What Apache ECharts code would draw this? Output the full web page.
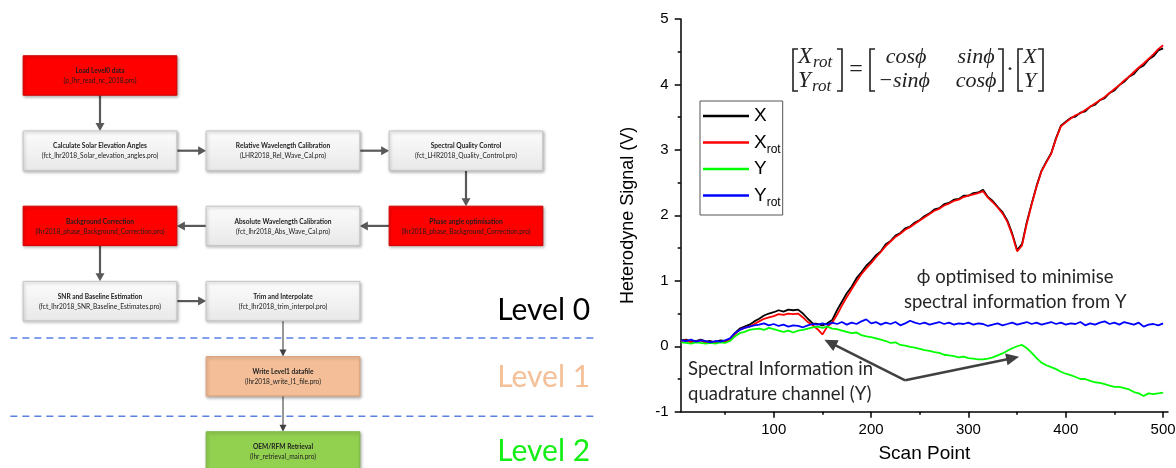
<!DOCTYPE html>
<html><head><meta charset="utf-8">
<script src="https://cdn.jsdelivr.net/npm/echarts@6.0.0/dist/echarts.min.js"></script>
<style>html,body{margin:0;padding:0;background:#fff}#c{width:1176px;height:468px}</style>
</head><body><div id="c"></div>
<script>
// ---------------- chart data ----------------
const scanPoint = [5,10,15,20,25,30,35,40,45,50,55,60,65,70,75,80,85,90,95,100,
  105,110,115,120,125,130,135,140,145,150,155,160,165,170,175,180,185,190,195,200,
  205,210,215,220,225,230,235,240,245,250,255,260,265,270,275,280,285,290,295,300,
  305,310,315,320,325,330,335,340,345,350,355,360,365,370,375,380,385,390,395,400,
  405,410,415,420,425,430,435,440,445,450,455,460,465,470,475,480,485,490,495,500];
const sigX = [0.09,0.10,0.07,0.08,0.10,0.07,0.08,0.06,0.09,0.08,0.11,0.20,0.27,0.30,0.33,0.38,0.42,0.47,0.50,0.52,
  0.55,0.53,0.56,0.55,0.56,0.50,0.42,0.35,0.34,0.32,0.35,0.40,0.55,0.68,0.81,0.91,1.04,1.13,1.23,1.30,
  1.39,1.45,1.56,1.61,1.69,1.73,1.80,1.83,1.89,1.93,1.99,2.03,2.09,2.11,2.17,2.19,2.24,2.25,2.30,2.30,
  2.34,2.35,2.39,2.28,2.22,2.13,2.05,1.92,1.72,1.47,1.56,1.90,2.18,2.45,2.68,2.82,2.95,3.18,3.37,3.43,
  3.49,3.51,3.57,3.59,3.66,3.69,3.76,3.79,3.87,3.91,3.99,4.04,4.12,4.16,4.25,4.29,4.38,4.43,4.52,4.55];
const sigXrot = [0.08,0.09,0.06,0.07,0.09,0.05,0.06,0.05,0.07,0.07,0.10,0.18,0.25,0.28,0.30,0.34,0.38,0.42,0.44,0.46,
  0.49,0.48,0.50,0.49,0.50,0.44,0.37,0.32,0.26,0.18,0.30,0.36,0.48,0.62,0.75,0.87,0.99,1.10,1.19,1.27,
  1.36,1.44,1.53,1.60,1.67,1.72,1.78,1.82,1.87,1.92,1.97,2.02,2.07,2.10,2.15,2.18,2.22,2.24,2.28,2.30,
  2.32,2.34,2.37,2.27,2.20,2.12,2.03,1.90,1.70,1.45,1.54,1.88,2.17,2.44,2.67,2.81,2.94,3.17,3.36,3.42,
  3.48,3.53,3.56,3.61,3.66,3.71,3.76,3.81,3.87,3.93,3.99,4.06,4.12,4.19,4.26,4.32,4.39,4.46,4.54,4.60];
const sigY = [0.06,0.05,0.04,0.06,0.05,0.04,0.05,0.04,0.06,0.05,0.08,0.15,0.20,0.22,0.25,0.26,0.27,0.25,0.28,0.26,
  0.24,0.22,0.24,0.21,0.24,0.25,0.27,0.29,0.30,0.28,0.30,0.27,0.26,0.24,0.22,0.20,0.21,0.17,0.15,0.14,
  0.12,0.10,0.08,0.05,0.06,0.02,0.01,-0.01,-0.02,-0.04,-0.06,-0.07,-0.09,-0.10,-0.13,-0.14,-0.15,-0.17,-0.16,-0.18,
  -0.19,-0.20,-0.20,-0.19,-0.17,-0.14,-0.11,-0.07,-0.03,0.00,0.02,-0.03,-0.10,-0.18,-0.25,-0.29,-0.32,-0.35,-0.39,-0.42,
  -0.44,-0.47,-0.50,-0.50,-0.53,-0.55,-0.56,-0.58,-0.60,-0.62,-0.62,-0.64,-0.66,-0.70,-0.72,-0.76,-0.72,-0.73,-0.72,-0.71];
const sigYrot = [0.09,0.08,0.10,0.07,0.09,0.08,0.06,0.08,0.07,0.09,0.12,0.20,0.25,0.28,0.30,0.32,0.33,0.35,0.32,0.34,
  0.31,0.33,0.30,0.32,0.31,0.29,0.32,0.34,0.33,0.35,0.33,0.36,0.34,0.37,0.33,0.36,0.34,0.38,0.41,0.35,
  0.37,0.33,0.36,0.34,0.37,0.32,0.35,0.39,0.36,0.34,0.36,0.33,0.35,0.37,0.34,0.36,0.33,0.35,0.34,0.36,
  0.33,0.35,0.34,0.31,0.33,0.35,0.32,0.34,0.36,0.33,0.35,0.37,0.34,0.36,0.33,0.35,0.37,0.34,0.36,0.33,
  0.35,0.34,0.37,0.32,0.35,0.33,0.36,0.38,0.34,0.36,0.33,0.37,0.35,0.33,0.36,0.30,0.33,0.34,0.32,0.35];
const seriesNames = ['X','Xrot','Y','Yrot'];
const legendLabels = {X:'X', Xrot:'X{sub|rot}', Y:'Y', Yrot:'Y{sub|rot}'};
const xLabelValues = [100,200,300,400,500];
const xMinorValues = [50,150,250,350,450];

// ---------------- flowchart content ----------------
const flowTitles = ['Load Level0 data','Calculate Solar Elevation Angles','Relative Wavelength Calibration',
  'Spectral Quality Control','Phase angle optimisation','Absolute Wavelength Calibration','Background Correction',
  'SNR and Baseline Estimation','Trim and Interpolate','Write Level1 datafile','OEM/RFM Retrieval'];
const flowFiles = ['(p_lhr_read_nc_2018.pro)','(fct_lhr2018_Solar_elevation_angles.pro)','(LHR2018_Rel_Wave_Cal.pro)',
  '(fct_LHR2018_Quality_Control.pro)','(lhr2018_phase_Background_Correction.pro)','(fct_lhr2018_Abs_Wave_Cal.pro)',
  '(lhr2018_phase_Background_Correction.pro)','(fct_lhr2018_SNR_Baseline_Estimates.pro)','(fct_lhr2018_trim_interpol.pro)',
  '(lhr2018_write_l1_file.pro)','(lhr_retrieval_main.pro)'];
const flowCols = [0,0,1,2,2,1,0,0,1,1,1];
const flowRows = [0,1,1,1,2,2,2,3,3,4,5];
const flowKinds = ['red','gray','gray','gray','red','gray','red','gray','gray','peach','green'];
const flowLinks = [[0,1],[1,2],[2,3],[3,4],[4,5],[5,6],[6,7],[7,8],[8,9],[9,10]];
const levelNames = ['Level 0','Level 1','Level 2'];
const levelColors = ['#000000','#f5bf97','#14ee14'];
const levelRows = [3.12,4.02,5.0];
const levelSeparators = [3.49,4.53];

// annotations on the signal plot (data coordinates)
const arrowBase = [235,-0.52];
const arrowTips = [[152,0.10],[352,-0.16]];
const noteTexts = ['\u03D5 optimised to minimise','spectral information from Y','Spectral Information in','quadrature channel (Y)'];
const notePos = [[348,1.06],[348,0.675],[12,-0.35],[12,-0.73]];
const noteAlign = ['center','center','left','left'];

// ---------------- styles ----------------
const BOX_W = 0.84, BOX_H = 0.525;
const boxStyles = {
  red:{fill:'#ff0000',stroke:'#d00000',text:'#1e1e1e'},
  gray:{fill:{type:'linear',x:0,y:0,x2:0,y2:1,colorStops:[{offset:0,color:'#fcfcfc'},{offset:1,color:'#e8e8e8'}]},stroke:'#c4c4c4',text:'#222'},
  peach:{fill:'#f4bf98',stroke:'#dca27b',text:'#222'},
  green:{fill:'#92d050',stroke:'#7db843',text:'#222'}
};
const SANS = '"Liberation Sans", Arial, sans-serif';
const CAL = 'Lato, "Open Sans", sans-serif';
const SERIF = '"Liberation Serif", "DejaVu Serif", serif';

function arrowShape(x1,y1,x2,y2,len,half,color,width){
  const d = Math.hypot(x2-x1,y2-y1), ux=(x2-x1)/d, uy=(y2-y1)/d;
  const bx = x2-ux*len, by = y2-uy*len;
  return [
    {type:'line',shape:{x1:x1,y1:y1,x2:bx+ux*1,y2:by+uy*1},style:{stroke:color,lineWidth:width}},
    {type:'polygon',shape:{points:[[x2,y2],[bx-uy*half,by+ux*half],[bx+uy*half,by-ux*half]]},style:{fill:color}}
  ];
}

const chart = echarts.init(document.getElementById('c'));

const mainSeries = [sigX,sigXrot,sigY,sigYrot].map((arr,k)=>({
  name: seriesNames[k], type:'line', xAxisIndex:1, yAxisIndex:1,
  data: scanPoint.map((x,i)=>[x,arr[i]]),
  showSymbol:false, symbol:'none', color:['#000000','#ff0000','#00ff00','#0000ff'][k],
  lineStyle:{width:1.8}, animation:false, silent:true, z:3+k
}));

// equation (text) elements
const eqColor = '#222';
function eqText(t,x,y,size,italic,align){
  return {type:'text',x:x,y:y,silent:true,style:{text:t,fill:eqColor,
    font:(italic?'italic ':'')+size+'px '+SERIF,textAlign:align||'center',textVerticalAlign:'middle'}};
}
function bracket(x,open){
  const s = open?5:-5;
  return {type:'polyline',silent:true,shape:{points:[[x+s,49],[x,49],[x,91],[x+s,91]]},style:{stroke:eqColor,lineWidth:1.6,fill:null}};
}
const eqElements = [
  bracket(793,true), bracket(842,false), bracket(870,true), bracket(1003,false), bracket(1018,true), bracket(1043,false),
  eqText('X',798,57,23,true,'left'), eqText('rot',813,63,17,true,'left'),
  eqText('Y',798,81,23,true,'left'), eqText('rot',812,87,17,true,'left'),
  eqText('=',856,70,24,false),
  eqText('cos\u03D5',906,57,22,true), eqText('sin\u03D5',976,57,22,true),
  eqText('\u2212sin\u03D5',904,81,22,true), eqText('cos\u03D5',976,81,22,true),
  eqText('\u00B7',1010,70,24,false),
  eqText('X',1030,57,22,true), eqText('Y',1030,81,22,true)
];

chart.setOption({
  animation:false,
  backgroundColor:'#ffffff',
  grid:[
    {left:8.5,top:37.9,width:549,height:451.2,outerBoundsMode:'none',containLabel:false},
    {left:680.7,top:19,width:487.3,height:392.7,outerBoundsMode:'none',containLabel:false}
  ],
  xAxis:[
    {gridIndex:0,type:'value',min:-0.5,max:2.5,show:false},
    {gridIndex:1,type:'value',min:4.4,max:505,position:'bottom',
      name:'Scan Point',nameLocation:'middle',nameGap:33,
      nameTextStyle:{fontFamily:SANS,fontSize:19,color:'#000'},
      axisLine:{show:true,onZero:false,lineStyle:{color:'#000',width:1.5}},
      axisTick:{show:true,length:6,customValues:xLabelValues,lineStyle:{color:'#000',width:1.5}},
      axisLabel:{show:true,customValues:xLabelValues,margin:11,fontFamily:SANS,fontSize:15,color:'#000'},
      splitLine:{show:false}},
    {gridIndex:1,type:'value',min:4.4,max:505,position:'bottom',
      axisLine:{show:false,onZero:false},
      axisTick:{show:true,length:3,customValues:xMinorValues,lineStyle:{color:'#000',width:1.5}},
      axisLabel:{show:false},splitLine:{show:false}}
  ],
  yAxis:[
    {gridIndex:0,type:'value',min:-0.5,max:5.5,inverse:true,show:false},
    {gridIndex:1,type:'value',min:-1,max:5,interval:1,
      name:'Heterodyne Signal (V)',nameLocation:'middle',nameGap:44,
      nameTextStyle:{fontFamily:SANS,fontSize:18,color:'#000'},
      axisLine:{show:true,onZero:false,lineStyle:{color:'#000',width:1.5}},
      axisTick:{show:true,length:6,lineStyle:{color:'#000',width:1.5}},
      minorTick:{show:true,splitNumber:2,length:3,lineStyle:{color:'#000',width:1.5}},
      axisLabel:{margin:12,fontFamily:SANS,fontSize:15,color:'#000'},
      splitLine:{show:false},minorSplitLine:{show:false}}
  ],
  legend:{
    data:seriesNames, orient:'vertical', left:700, top:101,
    padding:[4,2,6,3], itemWidth:46, itemHeight:2.5, itemGap:2, itemTextGap:6,
    icon:'rect', borderColor:'#555', borderWidth:1, backgroundColor:'#fff', selectedMode:false,
    textStyle:{fontFamily:SANS,fontSize:19,color:'#000',lineHeight:22,
      rich:{sub:{fontFamily:SANS,fontSize:12,color:'#000',lineHeight:12,padding:[15,0,0,0]}}},
    formatter:function(n){return legendLabels[n];}
  },
  graphic:{elements:eqElements},
  series:[
    // level separators
    {type:'custom',xAxisIndex:0,yAxisIndex:0,silent:true,z:1,
      data:levelSeparators.map(r=>[0,r]),encode:{x:0,y:1},
      renderItem:function(p,api){
        const a = api.coord([-0.49,api.value(1)]), b = api.coord([2.716,api.value(1)]);
        return {type:'line',shape:{x1:a[0],y1:a[1],x2:b[0],y2:b[1]},style:{stroke:'#5b80e6',lineWidth:1.5,lineDash:[7,5]}};
      }},
    // level labels
    {type:'custom',xAxisIndex:0,yAxisIndex:0,silent:true,z:2,
      data:levelRows.map((r,i)=>[2.678,r,i]),encode:{x:0,y:1},
      renderItem:function(p,api){
        const c = api.coord([api.value(0),api.value(1)]), i = api.value(2);
        return {type:'text',x:c[0],y:c[1],style:{text:levelNames[i],fill:levelColors[i],font:'30px '+CAL,textAlign:'right',textVerticalAlign:'middle'}};
      }},
    // flow links
    {type:'custom',xAxisIndex:0,yAxisIndex:0,silent:true,z:2,
      data:flowLinks,encode:{x:0,y:1},
      renderItem:function(p,api){
        const a = api.value(0), b = api.value(1);
        const pa = api.coord([flowCols[a],flowRows[a]]), pb = api.coord([flowCols[b],flowRows[b]]);
        const s = api.size([BOX_W,BOX_H]); const w=Math.abs(s[0]), h=Math.abs(s[1]);
        const dx = Math.sign(pb[0]-pa[0]), dy = Math.sign(pb[1]-pa[1]);
        const x1 = pa[0]+dx*w/2, x2 = pb[0]-dx*w/2, y1 = pa[1]+dy*h/2, y2 = pb[1]-dy*h/2;
        const thin = flowRows[b] >= 4;
        return {type:'group',children: thin ? arrowShape(x1,y1,x2,y2,7,3.5,'#404040',1.1)
                                            : arrowShape(x1,y1,x2,y2,8,4.5,'#595959',2.2)};
      }},
    // flow boxes
    {type:'custom',xAxisIndex:0,yAxisIndex:0,silent:true,z:3,
      data:flowCols.map((c,i)=>[c,flowRows[i],i]),encode:{x:0,y:1},
      renderItem:function(p,api){
        const i = api.value(2);
        const c = api.coord([api.value(0),api.value(1)]);
        const s = api.size([BOX_W,BOX_H]); const w=Math.abs(s[0]), h=Math.abs(s[1]);
        const st = boxStyles[flowKinds[i]];
        return {type:'group',children:[
          {type:'rect',shape:{x:c[0]-w/2,y:c[1]-h/2,width:w,height:h},
            style:{fill:st.fill,stroke:st.stroke,lineWidth:1,shadowBlur:3,shadowOffsetX:1,shadowOffsetY:1.5,shadowColor:'rgba(0,0,0,0.28)'}},
          {type:'text',x:c[0],y:c[1]-4.5,style:{text:flowTitles[i],fill:st.text,font:'bold 6.6px '+CAL,textAlign:'center',textVerticalAlign:'middle'}},
          {type:'text',x:c[0],y:c[1]+5.5,style:{text:flowFiles[i],fill:st.text,font:'6.6px '+CAL,textAlign:'center',textVerticalAlign:'middle'}}
        ]};
      }},
    ...mainSeries,
    // annotation arrows
    {type:'custom',xAxisIndex:1,yAxisIndex:1,silent:true,z:10,clip:false,
      data:arrowTips,encode:{x:0,y:1},
      renderItem:function(p,api){
        const t = api.coord([api.value(0),api.value(1)]), b = api.coord(arrowBase);
        return {type:'group',children:arrowShape(b[0],b[1],t[0],t[1],13,6,'#404040',2.5)};
      }},
    // annotation texts
    {type:'custom',xAxisIndex:1,yAxisIndex:1,silent:true,z:10,clip:false,
      data:notePos.map((q,i)=>[q[0],q[1],i]),encode:{x:0,y:1},
      renderItem:function(p,api){
        const c = api.coord([api.value(0),api.value(1)]), i = api.value(2);
        return {type:'text',x:c[0],y:c[1],style:{text:noteTexts[i],fill:'#262626',font:'18.5px '+CAL,textAlign:noteAlign[i],textVerticalAlign:'middle'}};
      }}
  ]
});
</script>
</body></html>
